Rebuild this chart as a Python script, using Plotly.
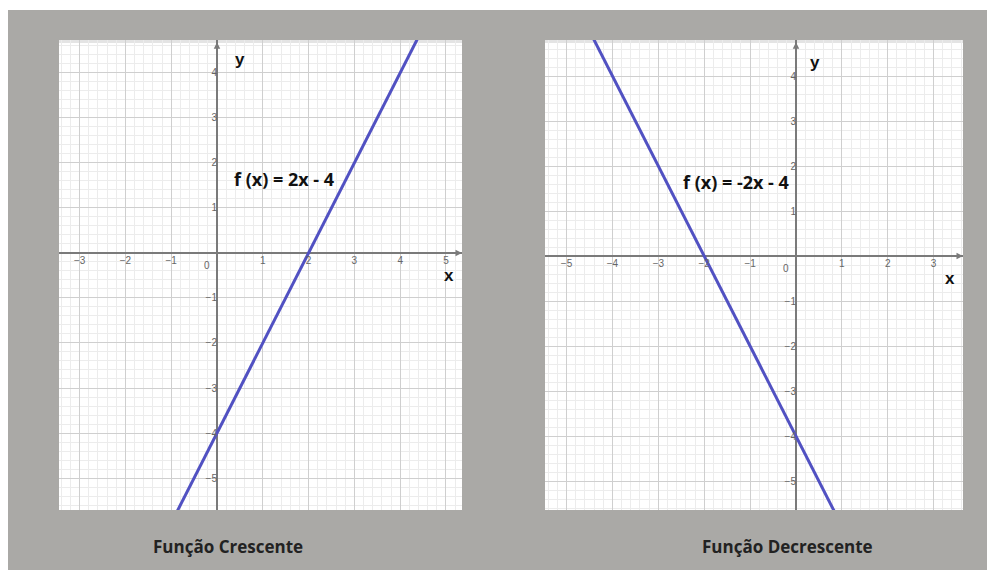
import plotly.graph_objects as go

W, H = 995, 570
OFF = 8  # page body margin shifts the figure by this many pixels

# data
left_x = [-1.0, 5.0]
left_y = [-6.0, 6.0]          # f(x) = 2x - 4
right_x = [-5.0, 1.0]
right_y = [6.0, -6.0]         # f(x) = -2x - 4

left_xticks = [-3, -2, -1, 1, 2, 3, 4, 5]
left_yticks = [-5, -4, -3, -2, -1, 1, 2, 3, 4]
right_xticks = [-5, -4, -3, -2, -1, 1, 2, 3]
right_yticks = [-5, -4, -3, -2, -1, 1, 2, 3, 4]

left_label = "f (x) = 2x - 4"
right_label = "f (x) = -2x - 4"
captions = ["Função Crescente", "Função Decrescente"]

# panel boxes in pixels: (x0, x1, y0, y1), plus origin pixel
LEFT = dict(box=(59, 462, 40, 510), origin=(217, 253), rng_x=(-3.45, 5.35), rng_y=(-5.71, 4.73))
RIGHT = dict(box=(545, 963, 40, 510), origin=(796, 256), rng_x=(-5.47, 3.64), rng_y=(-5.64, 4.80))

GRAY_BG = "#aaa9a6"
LINE = "#5151c2"
MAJOR = "#cfcfcf"
MINOR = "#ececec"
AXIS = "#7a7a7a"
TICKFONT = dict(family="Liberation Sans", size=10, color="#666")


def px(xp):
    return max(0.0, (xp - OFF) / W)


def py(yp):
    return min(1.0, 1 - (yp - OFF) / H)


fig = go.Figure()
fig.add_trace(go.Scatter(x=left_x, y=left_y, mode="lines", line=dict(color=LINE, width=3),
                         xaxis="x", yaxis="y", showlegend=False, hoverinfo="skip"))
fig.add_trace(go.Scatter(x=right_x, y=right_y, mode="lines", line=dict(color=LINE, width=3),
                         xaxis="x2", yaxis="y2", showlegend=False, hoverinfo="skip"))


def axes(p, xticks, yticks):
    x0, x1, y0, y1 = p["box"]
    ox, oy = p["origin"]
    common = dict(showgrid=True, gridcolor=MAJOR, gridwidth=1, dtick=1,
                  minor=dict(dtick=0.2, showgrid=True, gridcolor=MINOR, gridwidth=1),
                  zeroline=True, zerolinecolor=AXIS, zerolinewidth=1.5,
                  showline=False, ticks="", tickfont=TICKFONT, fixedrange=True,
                  anchor="free", tickmode="array")
    xa = dict(common, domain=[px(x0), px(x1)], range=list(p["rng_x"]),
              position=py(oy), tickvals=xticks, ticktext=[str(v).replace("-", "\u2212") for v in xticks])
    ya = dict(common, domain=[py(y1), py(y0)], range=list(p["rng_y"]),
              position=px(ox), tickvals=yticks, ticktext=[str(v).replace("-", "\u2212") for v in yticks])
    return xa, ya


xa1, ya1 = axes(LEFT, left_xticks, left_yticks)
xa2, ya2 = axes(RIGHT, right_xticks, right_yticks)

shapes = [dict(type="rect", xref="paper", yref="paper", x0=px(7), x1=1, y0=0, y1=py(10),
               fillcolor=GRAY_BG, line_width=0, layer="below")]
for p in (LEFT, RIGHT):
    x0, x1, y0, y1 = p["box"]
    shapes.append(dict(type="rect", xref="paper", yref="paper", x0=px(x0), x1=px(x1),
                       y0=py(y1), y1=py(y0), fillcolor="white", line_width=0, layer="below"))
    shapes.append(dict(type="rect", xref="paper", yref="paper", x0=px(x0), x1=px(x1),
                       y0=py(y0 + 3), y1=py(y0), fillcolor="#e4e4e4", line_width=0, layer="below"))

annotations = []
for xr, yr, p, lab, lx in (("x", "y", LEFT, left_label, 0.32), ("x2", "y2", RIGHT, right_label, -2.51)):
    rx, ry = p["rng_x"], p["rng_y"]
    # axis arrows
    annotations.append(dict(x=rx[1], y=0, ax=rx[1] - 0.25, ay=0, xref=xr, yref=yr, axref=xr, ayref=yr,
                            showarrow=True, arrowhead=2, arrowsize=1, arrowwidth=1.3, arrowcolor=AXIS, text=""))
    annotations.append(dict(x=0, y=ry[1] - 0.05, ax=0, ay=ry[1] - 0.3, xref=xr, yref=yr, axref=xr, ayref=yr,
                            showarrow=True, arrowhead=2, arrowsize=1, arrowwidth=1.3, arrowcolor=AXIS, text=""))
    # origin label
    annotations.append(dict(x=-0.1, y=-0.12, xref=xr, yref=yr, text="0", showarrow=False,
                            xanchor="right", yanchor="top", font=TICKFONT))
    # axis names
    annotations.append(dict(x=0.5 if xr == "x" else 0.42, y=4.3, xref=xr, yref=yr, text="<b>y</b>",
                            showarrow=False, font=dict(family="Liberation Sans", size=17, color="#111")))
    annotations.append(dict(x=rx[1] - 0.28, y=-0.5, xref=xr, yref=yr, text="<b>x</b>",
                            showarrow=False, font=dict(family="Liberation Sans", size=17, color="#111")))
    # function label
    annotations.append(dict(x=lx, y=1.65, xref=xr, yref=yr, text="<b>" + lab + "</b>", showarrow=False,
                            xanchor="left", font=dict(family="Open Sans", size=18, color="#111")))

for cx, text in zip((228, 787), captions):
    annotations.append(dict(x=px(cx), y=py(546), xref="paper", yref="paper", text="<b>" + text + "</b>",
                            xanchor="center", yanchor="middle", showarrow=False,
                            font=dict(family="Open Sans", size=17, color="#222")))

fig.update_layout(
    width=W, height=H,
    margin=dict(l=0, r=0, t=0, b=0),
    paper_bgcolor="white",
    plot_bgcolor="rgba(0,0,0,0)",
    xaxis=xa1, yaxis=ya1, xaxis2=xa2, yaxis2=ya2,
    shapes=shapes,
    annotations=annotations,
    showlegend=False,
)

fig.write_html("out.html")
